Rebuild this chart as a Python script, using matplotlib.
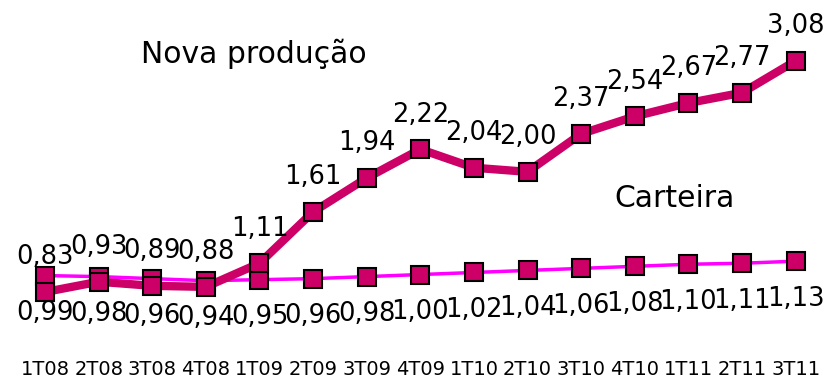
import matplotlib
matplotlib.use("Agg")
import matplotlib.pyplot as plt

quarters = ["1T08", "2T08", "3T08", "4T08", "1T09", "2T09", "3T09", "4T09",
            "1T10", "2T10", "3T10", "4T10", "1T11", "2T11", "3T11"]
nova_producao = [0.83, 0.93, 0.89, 0.88, 1.11, 1.61, 1.94, 2.22,
                 2.04, 2.00, 2.37, 2.54, 2.67, 2.77, 3.08]
carteira = [0.99, 0.98, 0.96, 0.94, 0.95, 0.96, 0.98, 1.00,
            1.02, 1.04, 1.06, 1.08, 1.10, 1.11, 1.13]

plt.rcParams['font.family'] = ['DejaVu Sans']

fig = plt.figure(figsize=(8.24, 3.79), dpi=100)
ax = fig.add_axes([0, 34 / 379, 1, 345 / 379])

x = list(range(len(quarters)))
ax.plot(x, carteira, color="#FF00FF", lw=2.5, marker="s", ms=13,
        mfc="#CC0066", mec="black", mew=1.5, zorder=2)
ax.plot(x, nova_producao, color="#CC0066", lw=6, marker="s", ms=13,
        mfc="#CC0066", mec="black", mew=1.5, zorder=3)

for xi, v in zip(x, nova_producao):
    ax.annotate(f"{v:.2f}".replace(".", ","), (xi, v), xytext=(0, 25),
                textcoords="offset points", ha="center", va="center",
                fontsize=18.5, zorder=4)
for xi, v in zip(x, carteira):
    ax.annotate(f"{v:.2f}".replace(".", ","), (xi, v), xytext=(0, -27),
                textcoords="offset points", ha="center", va="center",
                fontsize=18.5, zorder=4)

ax.set_xlim(-0.84, 14.53)
ax.set_ylim(0.314, 3.673)
ax.set_xticks(x)
ax.set_xticklabels(quarters, fontsize=14)
ax.tick_params(axis="x", length=0, pad=11)
ax.set_yticks([])
for s in ax.spines.values():
    s.set_visible(False)
ax.patch.set_alpha(0)

fig.text(254 / 824, (379 - 63) / 379, "Nova produção", ha="center",
         va="baseline", fontsize=21.5)
fig.text(675 / 824, (379 - 207) / 379, "Carteira", ha="center",
         va="baseline", fontsize=21.5)

fig.savefig("out.png", dpi=100)
